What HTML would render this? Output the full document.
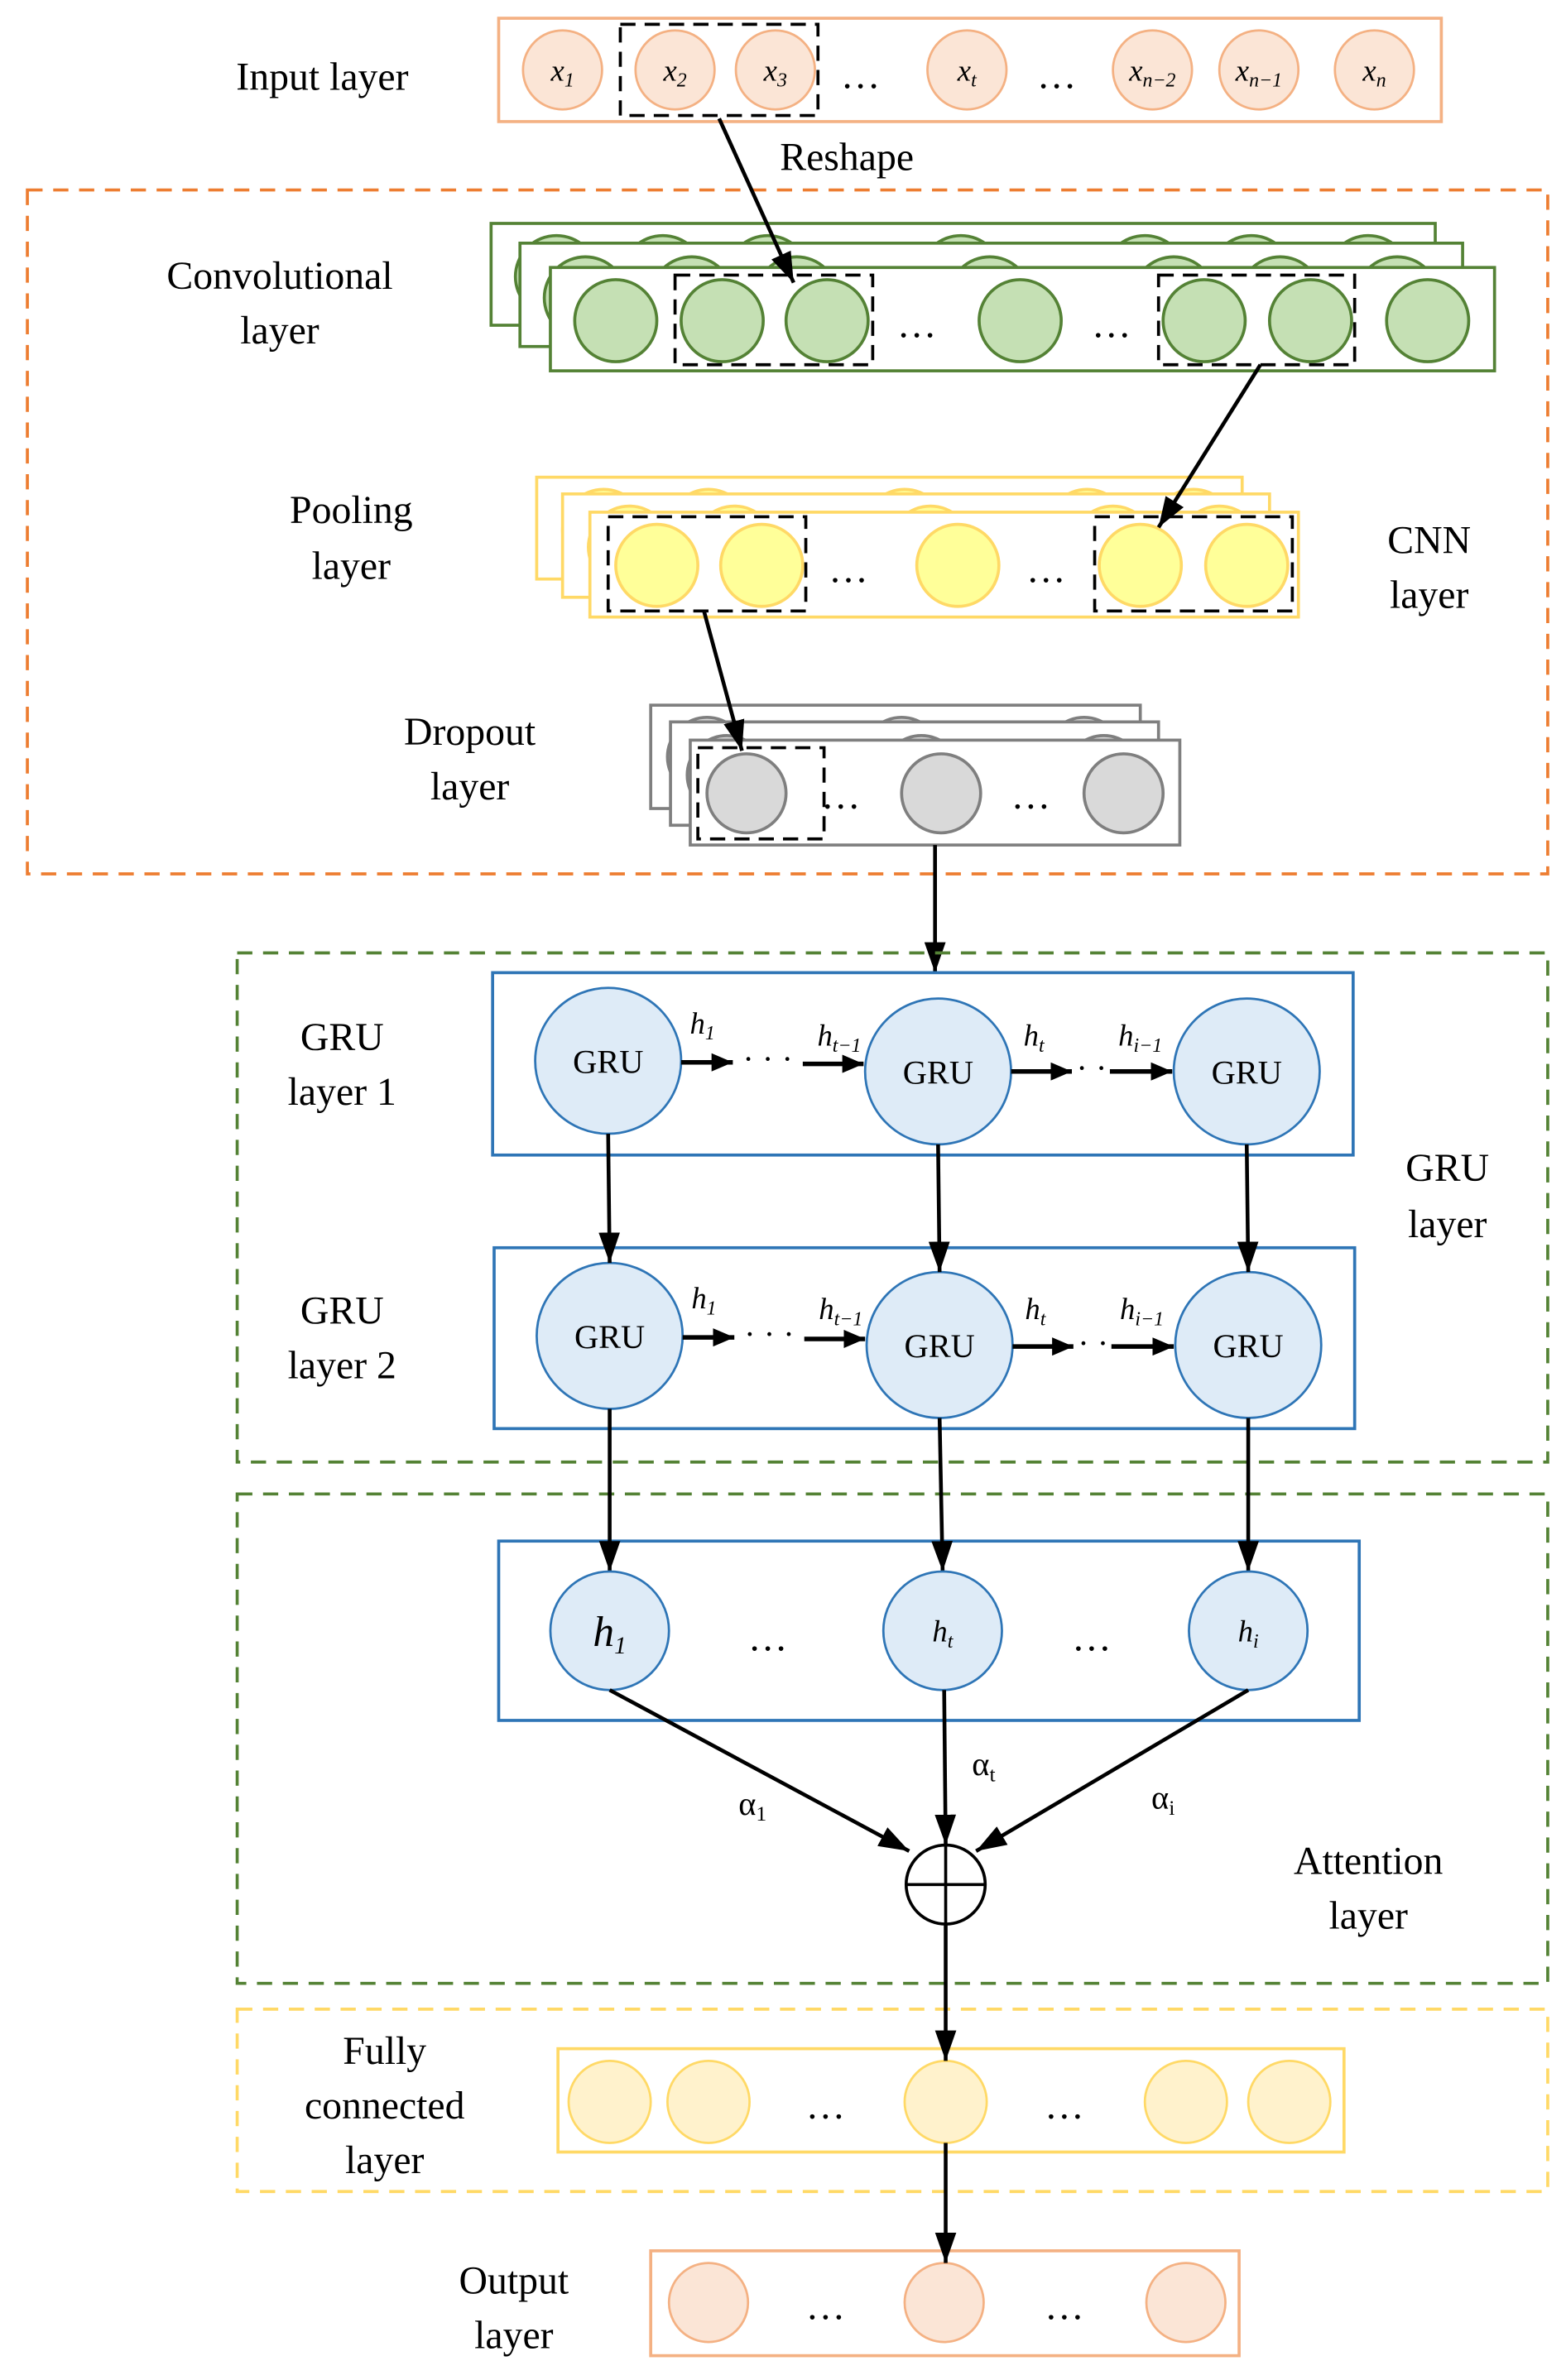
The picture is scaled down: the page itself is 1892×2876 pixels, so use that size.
<!DOCTYPE html>
<html><head><meta charset="utf-8"><style>
html,body{margin:0;padding:0;background:#fff}
svg{display:block}
text{font-family:"Liberation Serif",serif;fill:#000}
</style></head><body>
<svg width="1892" height="2876" viewBox="0 0 1030 1566" preserveAspectRatio="none" xmlns="http://www.w3.org/2000/svg">
<defs>
<marker id="a" viewBox="0 0 20 14" refX="20" refY="7" markerWidth="20" markerHeight="14" markerUnits="userSpaceOnUse" orient="auto"><path d="M0,0 L20,7 L0,14 z" fill="#000"/></marker>
<marker id="s" viewBox="0 0 14 12" refX="14" refY="6" markerWidth="14" markerHeight="12" markerUnits="userSpaceOnUse" orient="auto"><path d="M0,0 L14,6 L0,12 z" fill="#000"/></marker>
</defs>
<g font-size="26" text-anchor="middle">
<text x="212" y="59">Input layer</text>
<rect x="328" y="12" width="620" height="68" fill="#fff" stroke="#f4b183" stroke-width="2"/>
<g fill="#fbe5d6" stroke="#f4b183" stroke-width="1.5">
<circle cx="370" cy="46" r="26"/><circle cx="444" cy="46" r="26"/><circle cx="510" cy="46" r="26"/><circle cx="636" cy="46" r="26"/><circle cx="758" cy="46" r="26"/><circle cx="828" cy="46" r="26"/><circle cx="904" cy="46" r="26"/></g>
<g font-size="20" font-style="italic"><text x="370" y="53">x<tspan font-size="13" dy="4">1</tspan></text><text x="444" y="53">x<tspan font-size="13" dy="4">2</tspan></text><text x="510" y="53">x<tspan font-size="13" dy="4">3</tspan></text><text x="636" y="53">x<tspan font-size="13" dy="4">t</tspan></text><text x="758" y="53">x<tspan font-size="13" dy="4">n−2</tspan></text><text x="828" y="53">x<tspan font-size="13" dy="4">n−1</tspan></text><text x="904" y="53">x<tspan font-size="13" dy="4">n</tspan></text></g>
<text x="566" y="58">…</text><text x="695" y="58">…</text>
<rect x="408" y="16" width="130" height="60" fill="none" stroke="#000" stroke-width="2" stroke-dasharray="10,6"/>
<text x="557" y="112">Reshape</text>
<rect x="18" y="125" width="1000" height="450" fill="none" stroke="#ed7d31" stroke-width="2" stroke-dasharray="10,7"/>
<text x="184" y="190">Convolutional</text><text x="184" y="226">layer</text>
<g stroke="#548235" stroke-width="2">
<rect x="323" y="147" width="621" height="67" fill="#fff"/>
<g fill="#c5e0b4"><circle cx="366" cy="182" r="27"/><circle cx="436" cy="182" r="27"/><circle cx="505" cy="182" r="27"/><circle cx="632" cy="182" r="27"/><circle cx="753" cy="182" r="27"/><circle cx="823" cy="182" r="27"/><circle cx="900" cy="182" r="27"/></g>
<rect x="342" y="160" width="620" height="68" fill="#fff"/>
<g fill="#c5e0b4"><circle cx="385" cy="196" r="27"/><circle cx="455" cy="196" r="27"/><circle cx="524" cy="196" r="27"/><circle cx="651" cy="196" r="27"/><circle cx="772" cy="196" r="27"/><circle cx="842" cy="196" r="27"/><circle cx="919" cy="196" r="27"/></g>
<rect x="362" y="176" width="621" height="68" fill="#fff"/>
<g fill="#c5e0b4"><circle cx="405" cy="211" r="27"/><circle cx="475" cy="211" r="27"/><circle cx="544" cy="211" r="27"/><circle cx="671" cy="211" r="27"/><circle cx="792" cy="211" r="27"/><circle cx="862" cy="211" r="27"/><circle cx="939" cy="211" r="27"/></g>
</g>
<text x="603" y="222">…</text><text x="731" y="222">…</text>
<g fill="none" stroke="#000" stroke-width="2" stroke-dasharray="10,6"><rect x="444" y="181" width="130" height="59"/><rect x="762" y="181" width="129" height="59"/></g>
<text x="231" y="344">Pooling</text><text x="231" y="381">layer</text>
<text x="940" y="364">CNN</text><text x="940" y="400">layer</text>
<g stroke="#ffd966" stroke-width="2">
<rect x="353" y="314" width="464" height="67" fill="#fff"/>
<g fill="#ffff99"><circle cx="397" cy="349" r="27"/><circle cx="466" cy="349" r="27"/><circle cx="595" cy="349" r="27"/><circle cx="715" cy="349" r="27"/><circle cx="785" cy="349" r="27"/></g>
<rect x="370" y="325" width="465" height="68" fill="#fff"/>
<g fill="#ffff99"><circle cx="414" cy="360" r="27"/><circle cx="483" cy="360" r="27"/><circle cx="612" cy="360" r="27"/><circle cx="732" cy="360" r="27"/><circle cx="802" cy="360" r="27"/></g>
<rect x="388" y="337" width="466" height="69" fill="#fff"/>
<g fill="#ffff99"><circle cx="432" cy="372" r="27"/><circle cx="501" cy="372" r="27"/><circle cx="630" cy="372" r="27"/><circle cx="750" cy="372" r="27"/><circle cx="820" cy="372" r="27"/></g>
</g>
<text x="558" y="383">…</text><text x="688" y="383">…</text>
<g fill="none" stroke="#000" stroke-width="2" stroke-dasharray="10,6"><rect x="400" y="340" width="130" height="62"/><rect x="720" y="340" width="130" height="62"/></g>
<text x="309" y="490">Dropout</text><text x="309" y="526">layer</text>
<g stroke="#7f7f7f" stroke-width="2">
<rect x="428" y="464" width="322" height="68" fill="#fff"/>
<g fill="#d9d9d9"><circle cx="465" cy="498" r="26"/><circle cx="593" cy="498" r="26"/><circle cx="713" cy="498" r="26"/></g>
<rect x="441" y="475" width="321" height="68" fill="#fff"/>
<g fill="#d9d9d9"><circle cx="478" cy="510" r="26"/><circle cx="606" cy="510" r="26"/><circle cx="726" cy="510" r="26"/></g>
<rect x="454" y="487" width="322" height="69" fill="#fff"/>
<g fill="#d9d9d9"><circle cx="491" cy="522" r="26"/><circle cx="619" cy="522" r="26"/><circle cx="739" cy="522" r="26"/></g>
</g>
<text x="553" y="532">…</text><text x="678" y="532">…</text>
<rect x="459" y="492" width="83" height="60" fill="none" stroke="#000" stroke-width="2" stroke-dasharray="10,6"/>
<g stroke="#000" stroke-width="2.5" fill="none">
<line x1="473" y1="78" x2="522" y2="186" marker-end="url(#a)"/>
<line x1="829" y1="240" x2="762" y2="347" marker-end="url(#a)"/>
<line x1="463" y1="402" x2="488" y2="494" marker-end="url(#a)"/>
<line x1="615" y1="556" x2="615" y2="640" marker-end="url(#a)"/>
</g>
<rect x="156" y="627" width="862" height="335" fill="none" stroke="#548235" stroke-width="2" stroke-dasharray="10,7"/>
<text x="225" y="691">GRU</text><text x="225" y="727">layer 1</text>
<text x="225" y="871">GRU</text><text x="225" y="907">layer 2</text>
<text x="952" y="777">GRU</text><text x="952" y="814">layer</text>
<rect x="324" y="640" width="566" height="120" fill="#fff" stroke="#2e75b6" stroke-width="2"/>
<rect x="325" y="821" width="566" height="119" fill="#fff" stroke="#2e75b6" stroke-width="2"/>
<g fill="#deebf7" stroke="#2e75b6" stroke-width="1.5">
<circle cx="400" cy="698" r="48"/><circle cx="617" cy="705" r="48"/><circle cx="820" cy="705" r="48"/>
<circle cx="401" cy="879" r="48"/><circle cx="618" cy="885" r="48"/><circle cx="821" cy="885" r="48"/></g>
<g font-size="22"><text x="400" y="706">GRU</text><text x="617" y="713">GRU</text><text x="820" y="713">GRU</text><text x="401" y="887">GRU</text><text x="618" y="893">GRU</text><text x="821" y="893">GRU</text></g>
<g stroke="#000" stroke-width="3" fill="none">
<line x1="448" y1="699" x2="482" y2="699" marker-end="url(#s)"/><line x1="528" y1="700" x2="568" y2="700" marker-end="url(#s)"/>
<line x1="665" y1="705" x2="705" y2="705" marker-end="url(#s)"/><line x1="730" y1="705" x2="771" y2="705" marker-end="url(#s)"/>
<line x1="449" y1="880" x2="483" y2="880" marker-end="url(#s)"/><line x1="529" y1="881" x2="569" y2="881" marker-end="url(#s)"/>
<line x1="666" y1="886" x2="706" y2="886" marker-end="url(#s)"/><line x1="731" y1="886" x2="772" y2="886" marker-end="url(#s)"/>
</g>
<g font-size="22"><text x="505" y="704">· · ·</text><text x="718" y="710">· ·</text><text x="506" y="885">· · ·</text><text x="719" y="891">· ·</text></g>
<g font-size="20" font-style="italic" fill="#444">
<text x="462" y="680">h<tspan font-size="13" dy="4">1</tspan></text><text x="552" y="688">h<tspan font-size="13" dy="4">t−1</tspan></text><text x="680" y="688">h<tspan font-size="13" dy="4">t</tspan></text><text x="750" y="688">h<tspan font-size="13" dy="4">i−1</tspan></text>
<text x="463" y="861">h<tspan font-size="13" dy="4">1</tspan></text><text x="553" y="868">h<tspan font-size="13" dy="4">t−1</tspan></text><text x="681" y="868">h<tspan font-size="13" dy="4">t</tspan></text><text x="751" y="868">h<tspan font-size="13" dy="4">i−1</tspan></text>
</g>
<g stroke="#000" stroke-width="2.5" fill="none">
<line x1="400" y1="746" x2="401" y2="831" marker-end="url(#a)"/>
<line x1="617" y1="753" x2="618" y2="837" marker-end="url(#a)"/>
<line x1="820" y1="753" x2="821" y2="837" marker-end="url(#a)"/>
</g>
<rect x="156" y="983" width="862" height="322" fill="none" stroke="#548235" stroke-width="2" stroke-dasharray="10,7"/>
<rect x="328" y="1014" width="566" height="118" fill="#fff" stroke="#2e75b6" stroke-width="2"/>
<g stroke="#000" stroke-width="2.5" fill="none">
<line x1="401" y1="927" x2="401" y2="1034" marker-end="url(#a)"/>
<line x1="618" y1="933" x2="620" y2="1034" marker-end="url(#a)"/>
<line x1="821" y1="933" x2="821" y2="1034" marker-end="url(#a)"/>
</g>
<g fill="#deebf7" stroke="#2e75b6" stroke-width="1.5"><circle cx="401" cy="1073" r="39"/><circle cx="620" cy="1073" r="39"/><circle cx="821" cy="1073" r="39"/></g>
<g font-style="italic"><text x="401" y="1083" font-size="28">h<tspan font-size="16" dy="5">1</tspan></text><text x="620" y="1080" font-size="20">h<tspan font-size="13" dy="4">t</tspan></text><text x="821" y="1080" font-size="20">h<tspan font-size="13" dy="4">i</tspan></text></g>
<text x="505" y="1086">…</text><text x="718" y="1086">…</text>
<g stroke="#000" stroke-width="2.5" fill="none">
<line x1="401" y1="1112" x2="598" y2="1218" marker-end="url(#a)"/>
<line x1="621" y1="1112" x2="622" y2="1214" marker-end="url(#a)"/>
<line x1="821" y1="1112" x2="642" y2="1218" marker-end="url(#a)"/>
</g>
<circle cx="622" cy="1240" r="26" fill="#fff" stroke="#000" stroke-width="2"/>
<line x1="596" y1="1240" x2="648" y2="1240" stroke="#000" stroke-width="2"/><line x1="622" y1="1214" x2="622" y2="1266" stroke="#000" stroke-width="2"/>
<g font-size="22" fill="#444"><text x="495" y="1194">α<tspan font-size="14" dy="4">1</tspan></text><text x="647" y="1168">α<tspan font-size="14" dy="4">t</tspan></text><text x="765" y="1190">α<tspan font-size="14" dy="4">i</tspan></text></g>
<text x="900" y="1233">Attention</text><text x="900" y="1269">layer</text>
<rect x="156" y="1322" width="862" height="120" fill="none" stroke="#ffd966" stroke-width="2" stroke-dasharray="10,7"/>
<rect x="367" y="1348" width="517" height="68" fill="#fff" stroke="#ffd966" stroke-width="2"/>
<g fill="#fff2cc" stroke="#ffd966" stroke-width="1.5"><circle cx="401" cy="1383" r="27"/><circle cx="466" cy="1383" r="27"/><circle cx="622" cy="1383" r="27"/><circle cx="780" cy="1383" r="27"/><circle cx="848" cy="1383" r="27"/></g>
<text x="543" y="1394">…</text><text x="700" y="1394">…</text>
<text x="253" y="1358">Fully</text><text x="253" y="1394">connected</text><text x="253" y="1430">layer</text>
<rect x="428" y="1481" width="387" height="69" fill="#fff" stroke="#f4b183" stroke-width="2"/>
<g fill="#fbe5d6" stroke="#f4b183" stroke-width="1.5"><circle cx="466" cy="1515" r="26"/><circle cx="621" cy="1515" r="26"/><circle cx="780" cy="1515" r="26"/></g>
<text x="543" y="1526">…</text><text x="700" y="1526">…</text>
<text x="338" y="1509">Output</text><text x="338" y="1545">layer</text>
<g stroke="#000" stroke-width="2.5" fill="none">
<line x1="622" y1="1266" x2="622" y2="1356" marker-end="url(#a)"/>
<line x1="622" y1="1410" x2="622" y2="1489" marker-end="url(#a)"/>
</g>
</g>
</svg>
</body></html>
